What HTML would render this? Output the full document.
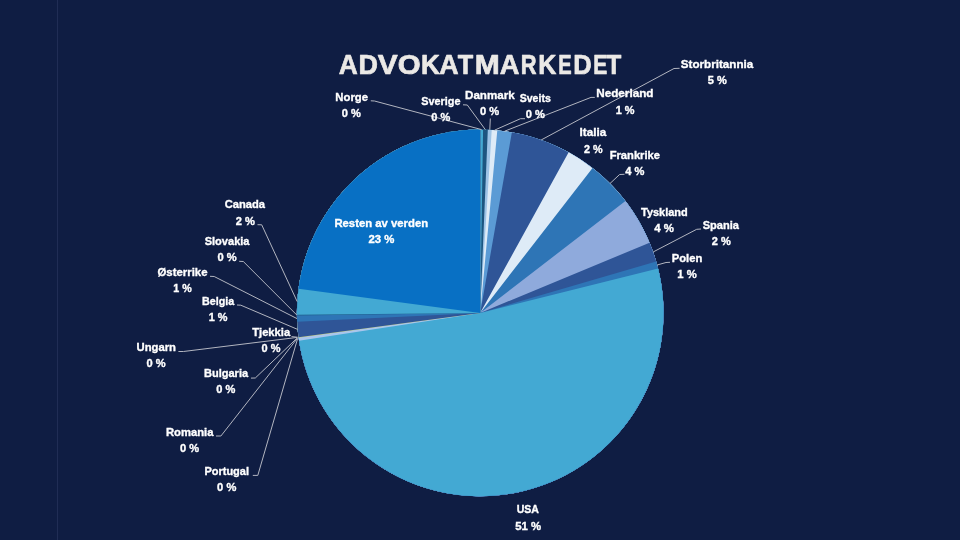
<!DOCTYPE html>
<html lang="no"><head><meta charset="utf-8"><title>Advokatmarkedet</title>
<style>
html,body{margin:0;padding:0;background:#0f1d43;}
body{width:960px;height:540px;overflow:hidden;}
svg{display:block;}
.t{font-family:"Liberation Sans",sans-serif;font-weight:bold;}
</style></head><body>
<svg width="960" height="540" viewBox="0 0 960 540">
<rect width="960" height="540" fill="#0f1d43"/>
<rect x="57" y="0" width="1" height="540" fill="#202d55"/>
<g shape-rendering="geometricPrecision">
<circle cx="480.2" cy="312.9" r="183.3" fill="#43a9d3"/>
<path d="M480.2 312.9L483.08 129.62A183.3 183.3 0 1 1 480.20 129.60Z" fill="#1d5580"/>
<path d="M480.2 312.9L487.81 129.76A183.3 183.3 0 1 1 480.20 129.60Z" fill="#9dc3e6"/>
<path d="M480.2 312.9L491.71 129.96A183.3 183.3 0 1 1 480.20 129.60Z" fill="#deebf7"/>
<path d="M480.2 312.9L497.29 130.40A183.3 183.3 0 1 1 480.20 129.60Z" fill="#5b9bd5"/>
<path d="M480.2 312.9L511.87 132.36A183.3 183.3 0 1 1 480.20 129.60Z" fill="#2f5597"/>
<path d="M480.2 312.9L568.65 152.35A183.3 183.3 0 1 1 480.20 129.60Z" fill="#deebf7"/>
<path d="M480.2 312.9L592.55 168.06A183.3 183.3 0 1 1 480.20 129.60Z" fill="#2e75b6"/>
<path d="M480.2 312.9L625.43 201.06A183.3 183.3 0 1 1 480.20 129.60Z" fill="#8faadc"/>
<path d="M480.2 312.9L649.55 242.75A183.3 183.3 0 1 1 480.20 129.60Z" fill="#2f5597"/>
<path d="M480.2 312.9L656.13 261.45A183.3 183.3 0 1 1 480.20 129.60Z" fill="#2e75b6"/>
<path d="M480.2 312.9L658.06 268.56A183.3 183.3 0 1 1 480.20 129.60Z" fill="#43a9d3"/>
<path d="M480.2 312.9L299.01 340.63A183.3 183.3 0 0 1 480.20 129.60Z" fill="#a9c6ec"/>
<path d="M480.2 312.9L298.60 337.78A183.3 183.3 0 0 1 480.20 129.60Z" fill="#c9cf7a"/>
<path d="M480.2 312.9L298.51 337.14A183.3 183.3 0 0 1 480.20 129.60Z" fill="#2f5597"/>
<path d="M480.2 312.9L297.11 321.69A183.3 183.3 0 0 1 480.20 129.60Z" fill="#2e75b6"/>
<path d="M480.2 312.9L296.92 315.46A183.3 183.3 0 0 1 480.20 129.60Z" fill="#1f5f8c"/>
<path d="M480.2 312.9L296.91 314.66A183.3 183.3 0 0 1 480.20 129.60Z" fill="#43a9d3"/>
<path d="M480.2 312.9L298.51 288.66A183.3 183.3 0 0 1 480.20 129.60Z" fill="#0870c4"/>
</g>
<g fill="none" stroke="#b2b5c0" stroke-width="1" stroke-linejoin="round">
<polyline points="370.8,100.8 374.5,101.0 481.6,129.6"/>
<polyline points="463.0,104.8 467.3,105.0 485.4,129.7"/>
<polyline points="490.3,118.5 489.8,129.8"/>
<polyline points="525.0,118.7 520.5,118.7 494.5,130.2"/>
<polyline points="594.8,97.4 591.0,97.4 504.6,131.2"/>
<polyline points="679.6,68.3 674.0,68.5 541.1,140.0"/>
<polyline points="624.5,174.3 619.6,174.5 610.0,183.5"/>
<polyline points="701.0,229.0 696.7,229.3 653.1,252.0"/>
<polyline points="670.0,262.3 666.0,262.5 657.1,265.0"/>
<polyline points="257.5,224.7 261.7,224.8 297.2,301.6"/>
<polyline points="239.2,261.3 243.3,261.5 296.9,315.1"/>
<polyline points="210.0,276.3 214.2,276.5 297.0,318.6"/>
<polyline points="237.0,305.0 240.8,305.2 297.6,329.4"/>
<polyline points="291.5,336.6 297.5,337.2"/>
<polyline points="178.4,351.5 183.4,351.5 297.3,337.4"/>
<polyline points="251.0,378.1 255.3,378.0 297.4,337.8"/>
<polyline points="216.0,436.0 220.9,436.0 297.5,338.2"/>
<polyline points="252.8,475.4 257.8,475.4 297.6,338.6"/>
</g>
<text class="t" y="73.8" font-size="28" fill="#ebe9e6" stroke="#ebe9e6" stroke-width="0.7" stroke-linejoin="round"><tspan x="338.69" textLength="19.05" lengthAdjust="spacingAndGlyphs">A</tspan><tspan x="358.55" textLength="19.43" lengthAdjust="spacingAndGlyphs">D</tspan><tspan x="377.84" textLength="20.01" lengthAdjust="spacingAndGlyphs">V</tspan><tspan x="397.65" textLength="22.84" lengthAdjust="spacingAndGlyphs">O</tspan><tspan x="421.00" textLength="18.89" lengthAdjust="spacingAndGlyphs">K</tspan><tspan x="439.18" textLength="19.38" lengthAdjust="spacingAndGlyphs">A</tspan><tspan x="457.77" textLength="15.46" lengthAdjust="spacingAndGlyphs">T</tspan><tspan x="474.84" textLength="25.02" lengthAdjust="spacingAndGlyphs">M</tspan><tspan x="499.87" textLength="19.70" lengthAdjust="spacingAndGlyphs">A</tspan><tspan x="520.69" textLength="15.81" lengthAdjust="spacingAndGlyphs">R</tspan><tspan x="538.17" textLength="18.11" lengthAdjust="spacingAndGlyphs">K</tspan><tspan x="558.30" textLength="13.43" lengthAdjust="spacingAndGlyphs">E</tspan><tspan x="573.24" textLength="18.49" lengthAdjust="spacingAndGlyphs">D</tspan><tspan x="593.14" textLength="14.03" lengthAdjust="spacingAndGlyphs">E</tspan><tspan x="606.17" textLength="15.04" lengthAdjust="spacingAndGlyphs">T</tspan></text>
<g class="t" font-size="11.4" fill="#ffffff" stroke="#ffffff" stroke-width="0.35">
<text x="335.3" y="100.8" textLength="32.7" lengthAdjust="spacingAndGlyphs">Norge</text>
<text x="341.7" y="117.0" textLength="19.1" lengthAdjust="spacingAndGlyphs">0 %</text>
<text x="421.3" y="104.7" textLength="39.2" lengthAdjust="spacingAndGlyphs">Sverige</text>
<text x="431.3" y="120.9" textLength="19.0" lengthAdjust="spacingAndGlyphs">0 %</text>
<text x="465.0" y="98.7" textLength="49.7" lengthAdjust="spacingAndGlyphs">Danmark</text>
<text x="480.0" y="115.0" textLength="19.2" lengthAdjust="spacingAndGlyphs">0 %</text>
<text x="519.7" y="101.7" textLength="31.1" lengthAdjust="spacingAndGlyphs">Sveits</text>
<text x="525.8" y="118.0" textLength="19.2" lengthAdjust="spacingAndGlyphs">0 %</text>
<text x="596.2" y="97.4" textLength="57.3" lengthAdjust="spacingAndGlyphs">Nederland</text>
<text x="615.7" y="113.6" textLength="18.8" lengthAdjust="spacingAndGlyphs">1 %</text>
<text x="680.8" y="67.9" textLength="72.4" lengthAdjust="spacingAndGlyphs">Storbritannia</text>
<text x="707.8" y="84.2" textLength="19.0" lengthAdjust="spacingAndGlyphs">5 %</text>
<text x="579.6" y="136.3" textLength="26.7" lengthAdjust="spacingAndGlyphs">Italia</text>
<text x="584.0" y="152.5" textLength="18.6" lengthAdjust="spacingAndGlyphs">2 %</text>
<text x="609.7" y="158.6" textLength="50.3" lengthAdjust="spacingAndGlyphs">Frankrike</text>
<text x="625.3" y="174.9" textLength="19.2" lengthAdjust="spacingAndGlyphs">4 %</text>
<text x="641.0" y="216.0" textLength="46.7" lengthAdjust="spacingAndGlyphs">Tyskland</text>
<text x="654.3" y="232.0" textLength="19.7" lengthAdjust="spacingAndGlyphs">4 %</text>
<text x="702.7" y="229.2" textLength="36.3" lengthAdjust="spacingAndGlyphs">Spania</text>
<text x="711.7" y="245.3" textLength="19.0" lengthAdjust="spacingAndGlyphs">2 %</text>
<text x="671.7" y="261.7" textLength="30.6" lengthAdjust="spacingAndGlyphs">Polen</text>
<text x="677.3" y="277.8" textLength="19.4" lengthAdjust="spacingAndGlyphs">1 %</text>
<text x="516.7" y="513.2" textLength="22.3" lengthAdjust="spacingAndGlyphs">USA</text>
<text x="515.3" y="529.5" textLength="25.9" lengthAdjust="spacingAndGlyphs">51 %</text>
<text x="224.7" y="208.3" textLength="40.3" lengthAdjust="spacingAndGlyphs">Canada</text>
<text x="235.8" y="224.6" textLength="19.2" lengthAdjust="spacingAndGlyphs">2 %</text>
<text x="204.7" y="244.7" textLength="44.8" lengthAdjust="spacingAndGlyphs">Slovakia</text>
<text x="217.5" y="260.9" textLength="19.2" lengthAdjust="spacingAndGlyphs">0 %</text>
<text x="157.5" y="275.8" textLength="50.0" lengthAdjust="spacingAndGlyphs">Østerrike</text>
<text x="173.3" y="292.0" textLength="18.4" lengthAdjust="spacingAndGlyphs">1 %</text>
<text x="202.0" y="304.7" textLength="32.2" lengthAdjust="spacingAndGlyphs">Belgia</text>
<text x="208.7" y="320.7" textLength="18.8" lengthAdjust="spacingAndGlyphs">1 %</text>
<text x="252.2" y="336.0" textLength="38.0" lengthAdjust="spacingAndGlyphs">Tjekkia</text>
<text x="261.5" y="352.2" textLength="18.9" lengthAdjust="spacingAndGlyphs">0 %</text>
<text x="136.6" y="351.0" textLength="39.4" lengthAdjust="spacingAndGlyphs">Ungarn</text>
<text x="146.5" y="367.0" textLength="19.1" lengthAdjust="spacingAndGlyphs">0 %</text>
<text x="204.0" y="377.2" textLength="44.1" lengthAdjust="spacingAndGlyphs">Bulgaria</text>
<text x="216.3" y="393.4" textLength="19.1" lengthAdjust="spacingAndGlyphs">0 %</text>
<text x="165.9" y="436.2" textLength="47.5" lengthAdjust="spacingAndGlyphs">Romania</text>
<text x="180.0" y="452.4" textLength="19.1" lengthAdjust="spacingAndGlyphs">0 %</text>
<text x="204.4" y="475.0" textLength="44.6" lengthAdjust="spacingAndGlyphs">Portugal</text>
<text x="217.1" y="491.3" textLength="19.2" lengthAdjust="spacingAndGlyphs">0 %</text>
<text x="334.4" y="226.9" textLength="93.7" lengthAdjust="spacingAndGlyphs">Resten av verden</text>
<text x="368.5" y="243.1" textLength="25.9" lengthAdjust="spacingAndGlyphs">23 %</text>
</g>
</svg>
</body></html>
